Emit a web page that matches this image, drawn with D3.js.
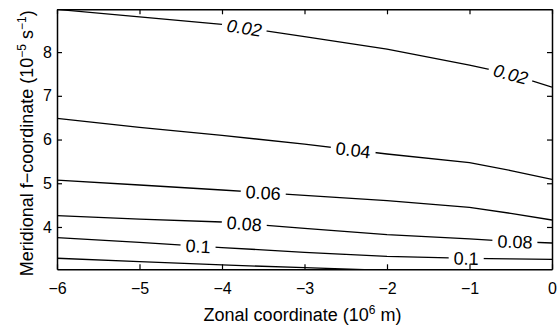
<!DOCTYPE html>
<html>
<head>
<meta charset="utf-8">
<script src="https://cdn.jsdelivr.net/npm/d3@7"></script>
<style>
  body { margin: 0; background: #fff; }
  svg { display: block; font-family: "Liberation Sans", Arial, sans-serif; }
</style>
</head>
<body>
<div id="chart"></div>
<script>
// zonal grid (10^6 m)
const xCoords = [-6, -5, -4, -3, -2, -1, -0.5, 0];
// f-coordinate of each contour (10^-5 s^-1) read at xCoords
const c002 = [8.976, 8.807, 8.635, 8.354, 8.069, 7.703, 7.497, 7.20];
const c004 = [6.486, 6.279, 6.094, 5.897, 5.669, 5.474, 5.291, 5.090];
const c006 = [5.074, 4.960, 4.846, 4.725, 4.603, 4.448, 4.311, 4.160];
const c008 = [4.258, 4.178, 4.114, 3.970, 3.824, 3.730, 3.669, 3.634];
const c010 = [3.755, 3.648, 3.529, 3.421, 3.326, 3.282, 3.269, 3.257];
const c012 = [3.285, 3.209, 3.131, 3.070, 3.006, 2.970, 2.960, 2.950];

const levels = ["0.02", "0.04", "0.06", "0.08", "0.1", "0.12"];
const contours = [c002, c004, c006, c008, c010, c012];
// where the inline labels sit (zonal coordinate)
const labelAt = [[-3.73, -0.5], [-2.41], [-3.5], [-3.73, -0.45], [-4.29, -1.04], []];

const xTicks = [-6, -5, -4, -3, -2, -1, 0];
const yTicks = [4, 5, 6, 7, 8];

const width = 557, height = 331;
const margin = {left: 57, top: 9.3, right: 5, bottom: 61.7};

const svg = d3.select("#chart").append("svg")
    .attr("width", width)
    .attr("height", height);

const x = d3.scaleLinear().domain([-6, 0]).range([margin.left, width - margin.right]);
const y = d3.scaleLinear().domain([3.032, 8.979]).range([height - margin.bottom, margin.top]);

svg.append("clipPath").attr("id", "plotclip")
  .append("rect")
    .attr("x", x(-6)).attr("y", y(8.979))
    .attr("width", x(0) - x(-6)).attr("height", y(3.032) - y(8.979));

const line = d3.line()
    .x(d => x(d[0]))
    .y(d => y(d[1]));

const lines = svg.append("g").attr("clip-path", "url(#plotclip)");
contours.forEach((vals, i) => {
  lines.append("path")
      .datum(xCoords.map((xv, j) => [xv, vals[j]]))
      .attr("d", line)
      .attr("fill", "none")
      .attr("stroke", "#000")
      .attr("stroke-width", 1.3);
});

// inline contour labels with a gap in the line
const labels = svg.append("g");
contours.forEach((vals, i) => {
  const interp = d3.scaleLinear().domain(xCoords).range(vals);
  labelAt[i].forEach(lx => {
    const px = x(lx), py = y(interp(lx));
    const dx = x(lx + 0.05) - x(lx - 0.05);
    const dy = y(interp(lx + 0.05)) - y(interp(lx - 0.05));
    const ang = Math.atan2(dy, dx) * 180 / Math.PI;
    const g = labels.append("g")
        .attr("transform", `translate(${px},${py}) rotate(${ang})`);
    const t = g.append("text")
        .attr("text-anchor", "middle")
        .attr("dy", "0.36em")
        .style("font-size", "18px")
        .style("font-style", i === 0 ? "italic" : "normal")
        .text(levels[i]);
    const w = t.node().getComputedTextLength();
    g.insert("rect", "text")
        .attr("x", -w / 2 - 5).attr("y", -8)
        .attr("width", w + 10).attr("height", 16)
        .attr("fill", "#fff");
  });
});

// axes with inward ticks on all four sides
const fmt = d3.format("d");
const axB = svg.append("g")
    .attr("transform", `translate(0,${y(3.032)})`)
    .call(d3.axisBottom(x).tickValues(xTicks).tickFormat(fmt).tickSizeInner(-5).tickSizeOuter(0).tickPadding(13));
const axT = svg.append("g")
    .attr("transform", `translate(0,${y(8.979)})`)
    .call(d3.axisTop(x).tickValues(xTicks).tickSizeInner(-5).tickSizeOuter(0).tickFormat(""));
const axL = svg.append("g")
    .attr("transform", `translate(${x(-6)},0)`)
    .call(d3.axisLeft(y).tickValues(yTicks).tickFormat(fmt).tickSizeInner(-5).tickSizeOuter(0).tickPadding(5));
const axR = svg.append("g")
    .attr("transform", `translate(${x(0)},0)`)
    .call(d3.axisRight(y).tickValues(yTicks).tickSizeInner(-5).tickSizeOuter(0).tickFormat(""));

[axB, axT, axL, axR].forEach(a => {
  a.attr("font-size", 16).attr("font-family", "'Liberation Sans', Arial, sans-serif");
  a.select(".domain").attr("stroke", "#000").attr("stroke-width", 1.5);
  a.selectAll(".tick line").attr("stroke", "#000").attr("stroke-width", 1.2);
  a.selectAll(".tick text").attr("fill", "#000");
});

// axis titles
const xt = svg.append("text")
    .attr("x", (x(-6) + x(0)) / 2 - 2)
    .attr("y", 321)
    .attr("text-anchor", "middle")
    .style("font-size", "18px");
xt.append("tspan").text("Zonal coordinate (10");
xt.append("tspan").attr("dy", "-7").style("font-size", "12px").text("6");
xt.append("tspan").attr("dy", "7").text(" m)");

const yt = svg.append("text")
    .attr("transform", `translate(33,${(y(3.032) + y(8.979)) / 2 + 4}) rotate(-90)`)
    .attr("text-anchor", "middle")
    .style("font-size", "18px");
yt.append("tspan").text("Meridional f\u2212coordinate (10");
yt.append("tspan").attr("dy", "-7").style("font-size", "12px").text("\u22125");
yt.append("tspan").attr("dy", "7").text(" s");
yt.append("tspan").attr("dy", "-7").style("font-size", "12px").text("\u22121");
yt.append("tspan").attr("dy", "7").text(")");
</script>
</body>
</html>
